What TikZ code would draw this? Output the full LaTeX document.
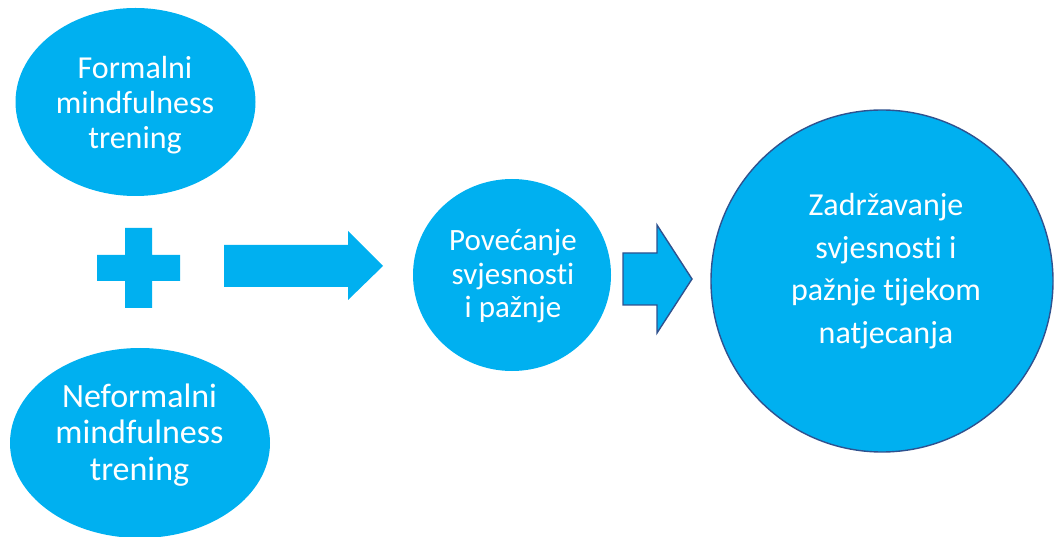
\documentclass[tikz,border=0pt]{standalone}
\usepackage{fontspec}
\setmainfont{Carlito}[Ligatures={NoCommon}]
\usetikzlibrary{shapes.geometric}
\definecolor{cyanfill}{HTML}{00B0F0}
\definecolor{darkedge}{HTML}{2F528F}
\tikzset{
  blob/.style={ellipse, fill=cyanfill, inner sep=0pt},
  edged/.style={draw=darkedge, line width=1.4pt},
  txt/.style={text=white, align=center, inner sep=0pt},
}
\begin{document}
\begin{tikzpicture}[x=1pt,y=-1pt]
\useasboundingbox (0,0) rectangle (1055,537);
\clip (0,0) rectangle (1055,537);
% left ellipses
\node[blob, minimum width=240, minimum height=188] (formal) at (135.5,102) {};
\node[blob, minimum width=260, minimum height=190] (neformal) at (140,443) {};
% plus sign
\fill[cyanfill] (125,228) -- (152,228) -- (152,255) -- (180,255) -- (180,281) -- (152,281)
  -- (152,308) -- (125,308) -- (125,281) -- (97,281) -- (97,255) -- (125,255) -- cycle;
% arrow 1
\fill[cyanfill] (224,245) -- (348,245) -- (348,231) -- (383,266) -- (348,300) -- (348,287) -- (224,287) -- cycle;
% middle circle
\node[blob, minimum width=198, minimum height=192] (povecanje) at (512,275) {};
% arrow 2
\filldraw[fill=cyanfill, edged, line join=miter] (623,253) -- (657,253) -- (657,225) -- (692,279) -- (657,333) -- (657,305) -- (623,305) -- cycle;
% big circle
\node[blob, edged, minimum width=342, minimum height=342] (zadrz) at (882,281) {};
% texts
\node[txt, font=\fontsize{32}{35}\selectfont] (t1) at (135,105) {Formalni\\mindfulness\\trening};
\node[txt, font=\fontsize{34}{36.5}\selectfont] (t2) at (139.5,435) {Neformalni\\mindfulness\\trening};
\node[txt, font=\fontsize{31}{33.5}\selectfont] (t3) at (513,276) {Povećanje\\svjesnosti\\i pažnje};
\node[txt, font=\fontsize{32}{42.5}\selectfont] (t4) at (886,271) {Zadržavanje\\svjesnosti i\\pažnje tijekom\\natjecanja};
\end{tikzpicture}
\end{document}
